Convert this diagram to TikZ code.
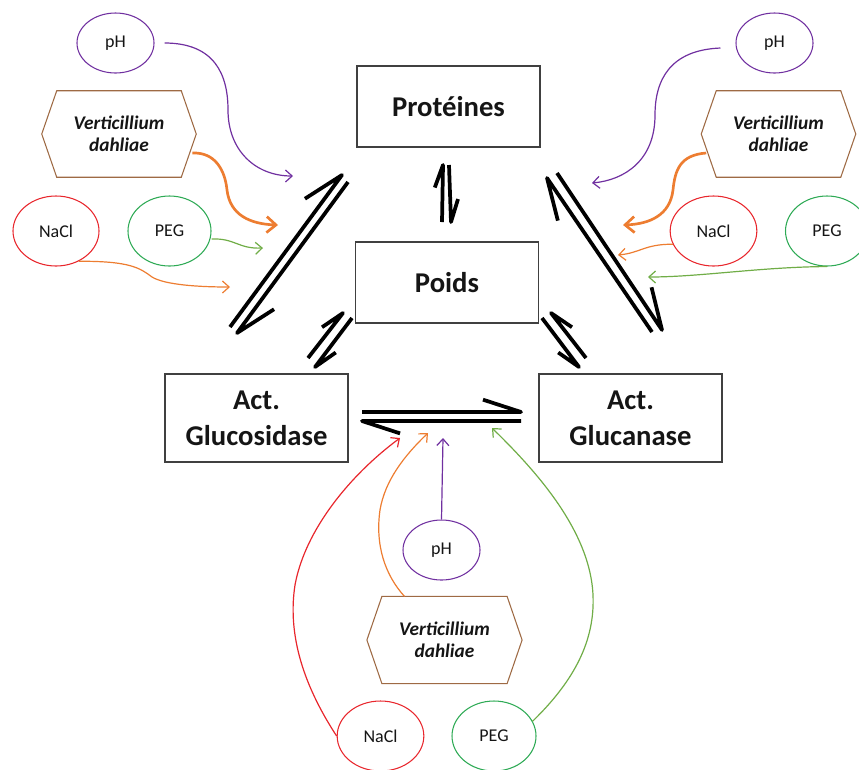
\documentclass[tikz,border=0pt]{standalone}
\usepackage{fontspec}
\setmainfont{Carlito}
\usetikzlibrary{calc,arrows.meta,shapes.geometric}
\definecolor{cpurple}{HTML}{7030A0}
\definecolor{cbrown}{HTML}{9E6A44}
\definecolor{corange}{HTML}{ED7D31}
\definecolor{cred}{HTML}{E8262C}
\definecolor{cgreen}{HTML}{2EAA55}
\definecolor{cgreenl}{HTML}{70AD47}
\definecolor{cbox}{HTML}{404040}
\definecolor{ctext}{HTML}{151515}
\newcommand\harp[4]{\draw[eqline] (#1) -- (#2) -- ($(#2)!#3!#4:(#1)$);}
\newcommand\drawhex[1]{\draw[hexline] ($(#1.north west)+(15,0)$) -- ($(#1.north east)+(-15,0)$) -- (#1.east) -- ($(#1.south east)+(-15,0)$) -- ($(#1.south west)+(15,0)$) -- (#1.west) -- cycle;}
\begin{document}
\begin{tikzpicture}[x=0.75pt,y=-0.75pt,
  box/.style={draw=cbox, line width=0.8pt, rectangle, minimum width=137.25pt, minimum height=60.75pt, inner sep=0pt, align=center, text=ctext, font=\fontsize{21.5}{27}\selectfont\bfseries},
  ell/.style={ellipse, draw, line width=0.8pt, inner sep=0pt, minimum height=52.5pt, text=ctext, font=\fontsize{13.5}{15}\selectfont},
  hexnode/.style={rectangle, minimum width=115.5pt, minimum height=64.5pt, inner sep=0pt, align=center, text=ctext, font=\fontsize{14.5}{16.5}\selectfont\bfseries\itshape},
  hexline/.style={draw=cbrown, line width=0.8pt},
  eqline/.style={draw=black, line width=2.8pt, line join=round},
  conn/.style={line width=0.9pt, -{Straight Barb[length=5pt,width=9pt]}},
  thickconn/.style={line width=2pt, -{Straight Barb[length=7pt,width=12pt]}}]
\useasboundingbox (0,0) rectangle (859,769);
% main boxes
\node[box] (prot) at (448.5,106.5) {Protéines};
\node[box] (poids) at (447,282.5) {Poids};
\node[box, minimum height=66pt] (gluco) at (256.5,418) {Act.\\Glucosidase};
\node[box, minimum height=66pt] (gluca) at (630.5,418) {Act.\\Glucanase};
% factor nodes left
\node[ell, draw=cpurple, minimum width=57.75pt, minimum height=45pt] (phL) at (115.5,43) {pH};
\node[hexnode] (hexL) at (119,134) {Verticillium\\dahliae};
\drawhex{hexL}
\node[ell, draw=cred, minimum width=64.5pt] (naclL) at (56,231) {NaCl};
\node[ell, draw=cgreen, minimum width=62.25pt] (pegL) at (169.5,231) {PEG};
% factor nodes right
\node[ell, draw=cpurple, minimum width=57.75pt, minimum height=45pt] (phR) at (774.5,43) {pH};
\node[hexnode] (hexR) at (778.5,134) {Verticillium\\dahliae};
\drawhex{hexR}
\node[ell, draw=cred, minimum width=65pt] (naclR) at (713.5,231) {NaCl};
\node[ell, draw=cgreen, minimum width=62.25pt] (pegR) at (827,231) {PEG};
% factor nodes bottom
\node[ell, draw=cpurple, minimum width=57.75pt, minimum height=45pt] (phB) at (441.5,550) {pH};
\node[hexnode, minimum width=116pt, minimum height=65pt] (hexB) at (444.5,640) {Verticillium\\dahliae};
\drawhex{hexB}
\node[ell, draw=cred, minimum width=65pt] (naclB) at (380.5,736) {NaCl};
\node[ell, draw=cgreen, minimum width=63pt] (pegB) at (494,736) {PEG};
% equilibrium arrow end points
\coordinate (e1a) at (230,327); \coordinate (e1b) at (342,175);
\coordinate (e1c) at (348,182); \coordinate (e1d) at (237,333);
\coordinate (e2a) at (442,222); \coordinate (e2b) at (443,165);
\coordinate (e2c) at (449,165); \coordinate (e2d) at (451,222);
\coordinate (e3a) at (308,358); \coordinate (e3b) at (343,313);
\coordinate (e3c) at (352,318); \coordinate (e3d) at (315,367);
\coordinate (e4a) at (586,358); \coordinate (e4b) at (551,313);
\coordinate (e4c) at (542,318); \coordinate (e4d) at (579,367);
\coordinate (e5a) at (652,332); \coordinate (e5b) at (547,178);
\coordinate (e5c) at (557,173); \coordinate (e5d) at (662,330);
\coordinate (e6a) at (362,412); \coordinate (e6b) at (521,412);
\coordinate (e6c) at (521,421); \coordinate (e6d) at (362,421);
\harp{e1a}{e1b}{33pt}{-21}
\harp{e1c}{e1d}{33pt}{-21}
\harp{e2a}{e2b}{18pt}{-19}
\harp{e2c}{e2d}{18pt}{-19}
\harp{e3a}{e3b}{19pt}{-18}
\harp{e3c}{e3d}{19pt}{-18}
\harp{e4a}{e4b}{19pt}{18}
\harp{e4c}{e4d}{19pt}{18}
\harp{e5a}{e5b}{33pt}{-20}
\harp{e5c}{e5d}{33pt}{-20}
\harp{e6a}{e6b}{30pt}{-18}
\harp{e6c}{e6d}{30pt}{-18}
% connector targets
\coordinate (tL1) at (293,176); \coordinate (tL2) at (278,225);
\coordinate (tL3) at (263,248); \coordinate (tL4) at (230,287);
\coordinate (tR1) at (592,183); \coordinate (tR2) at (623,225);
\coordinate (tR3) at (618,255); \coordinate (tR4) at (648,277);
\coordinate (tB1) at (400,438); \coordinate (tB2) at (428,433);
\coordinate (tB3) at (443,438); \coordinate (tB4) at (492,428);
% left connectors
\draw[conn, cpurple] ($(phL.east)+(10,0)$) .. controls (215,43) and (228,75) .. (228,110) .. controls (228,150) and (255,176) .. (tL1);
\draw[thickconn, corange] ($(hexL.east)+(-4,19)$) .. controls (215,152) and (225,170) .. (227,190) .. controls (230,215) and (250,224) .. (tL2);
\draw[conn, cgreenl] ($(pegL.east)+(0,8)$) .. controls (235,238) and (238,249) .. (tL3);
\draw[conn, corange] (naclL.-53) .. controls (130,261) and (140,268) .. (152,277) .. controls (165,285) and (200,287) .. (tL4);
% right connectors
\draw[conn, cpurple] ($(phR.west)+(-15,5)$) .. controls (670,50) and (655,80) .. (655,115) .. controls (655,160) and (625,180) .. (tR1);
\draw[thickconn, corange] ($(hexR.west)+(5,19)$) .. controls (680,155) and (675,170) .. (673,190) .. controls (670,215) and (650,224) .. (tR2);
\draw[conn, corange] (naclR.198) .. controls (645,244) and (640,253) .. (tR3);
\draw[conn, cgreenl] (pegR.south) .. controls (760,267) and (700,277) .. (tR4);
% bottom connectors
\draw[conn, cred] (naclB.west) .. controls (300,680) and (288,630) .. (295,585) .. controls (305,530) and (350,475) .. (tB1);
\draw[conn, corange] ($(hexB.north)+(-40,0)$) .. controls (385,575) and (375,545) .. (380,510) .. controls (385,480) and (405,455) .. (tB2);
\draw[conn, cpurple] (phB.north) -- (tB3);
\draw[conn, cgreenl] (pegB.21) .. controls (575,680) and (595,640) .. (593,595) .. controls (590,530) and (535,470) .. (tB4);
\end{tikzpicture}
\end{document}
